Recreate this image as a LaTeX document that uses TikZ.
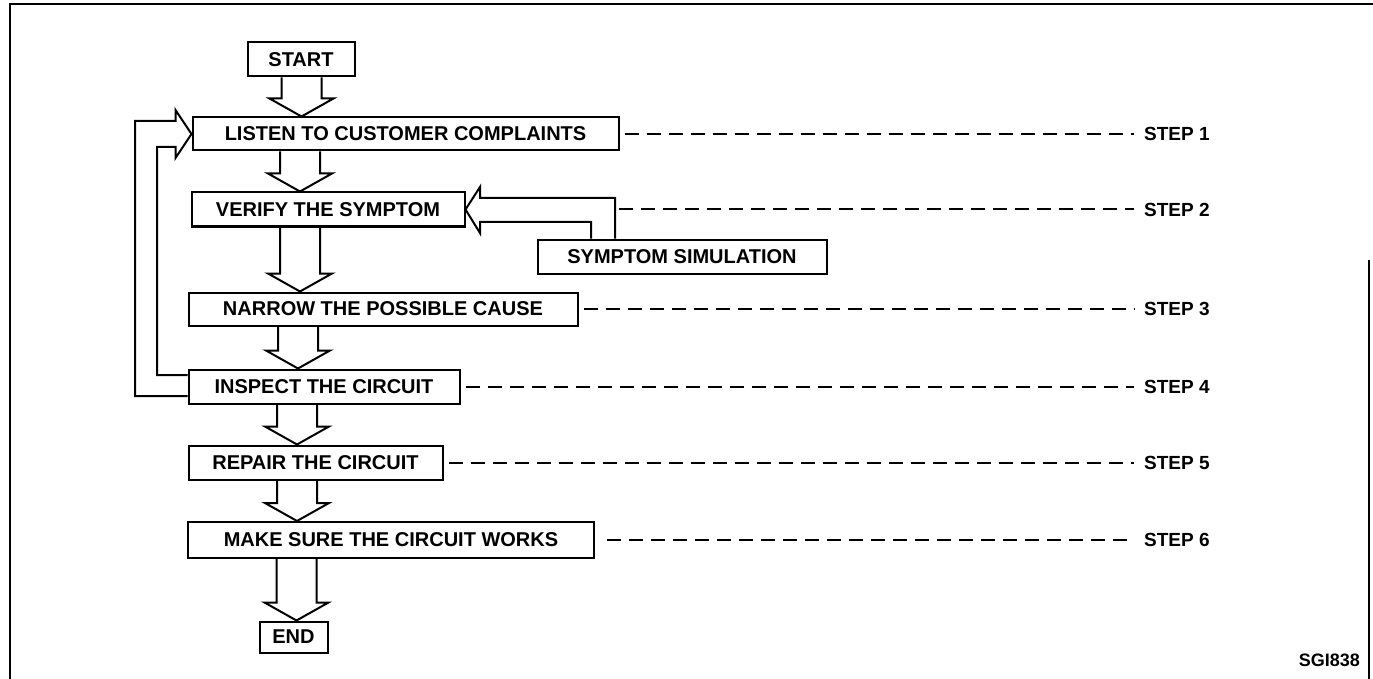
\documentclass[tikz,border=0pt]{standalone}
\usepackage{fontspec}
\setmainfont{Liberation Sans}
\usetikzlibrary{calc}
\tikzset{
  box/.style={draw,line width=2pt,inner sep=0pt,font=\bfseries\fontsize{20}{24}\selectfont},
  steplabel/.style={anchor=west,inner sep=0pt,font=\bfseries\fontsize{19}{23}\selectfont},
  stepline/.style={line width=2pt,dash pattern=on 14pt off 8pt,shorten <=5pt,shorten >=10pt},
  hollow/.style={draw,line width=2pt,line join=miter},
}
% hollow down arrow at x=#1 from node #2 to node #3
\newcommand\bigarrow[3]{%
  \draw[hollow] let \p1=(#2.south), \p2=(#3.north) in
    (#1pt-20pt,\y1) -- (#1pt-20pt,\y2+18pt) -- (#1pt-32pt,\y2+18pt) -- (#1pt,\y2)
    -- (#1pt+32pt,\y2+18pt) -- (#1pt+20pt,\y2+18pt) -- (#1pt+20pt,\y1);}
\begin{document}
\begin{tikzpicture}[x=1pt,y=-1pt]
\useasboundingbox (0,0) rectangle (1373,679);
% frame
\draw[line width=2.5pt] (10,679) -- (10,4) -- (1373,4);
\draw[line width=2pt] (1369,260) -- (1369,679);

% boxes
\node[box,minimum width=107pt,minimum height=34pt] (start) at (301,59.5) {START};
\node[box,minimum width=426pt,minimum height=33pt] (listen) at (405.5,134) {LISTEN TO CUSTOMER COMPLAINTS};
\node[box,minimum width=273pt,minimum height=34pt] (verify) at (328,209.5) {VERIFY THE SYMPTOM};
\node[box,minimum width=289pt,minimum height=34pt] (sim) at (682,256.5) {SYMPTOM SIMULATION};
\node[box,minimum width=389pt,minimum height=33pt] (narrow) at (383,309) {NARROW THE POSSIBLE CAUSE};
\node[box,minimum width=271pt,minimum height=34pt] (inspect) at (324,386.5) {INSPECT THE CIRCUIT};
\node[box,minimum width=254pt,minimum height=34pt] (repair) at (315.5,462.5) {REPAIR THE CIRCUIT};
\node[box,minimum width=406pt,minimum height=36pt] (make) at (391,540) {MAKE SURE THE CIRCUIT WORKS};
\node[box,minimum width=68pt,minimum height=31pt] (end) at (293.5,637) {END};

% main flow
\bigarrow{301.5}{start}{listen}
\bigarrow{300}{listen}{verify}
\bigarrow{300}{verify}{narrow}
\bigarrow{298}{narrow}{inspect}
\bigarrow{297}{inspect}{repair}
\bigarrow{297}{repair}{make}
\bigarrow{296.5}{make}{end}

% loop back from inspect to listen
\draw[hollow] let \p1=(inspect.west), \p2=(listen.west) in
  (\x1,\y1+11.5pt) -- (157pt,\y1+11.5pt) -- (157pt,\y2-13pt) -- (\x2-16pt,\y2-13pt)
  -- (\x2-16pt,\y2-24pt) -- (\p2) -- (\x2-16pt,\y2+24pt) -- (\x2-16pt,\y2+13pt)
  -- (135pt,\y2+13pt) -- (135pt,\y1-9.5pt) -- (\x1,\y1-9.5pt);

% simulation into verify
\draw[hollow] let \p1=(verify.east), \p2=(sim.north) in
  (591pt,\y2) -- (591pt,\y1-12.5pt) -- (480pt,\y1-12.5pt) -- (480pt,\y1-23.5pt) -- (\p1)
  -- (480pt,\y1+22.5pt) -- (480pt,\y1+11.5pt) -- (615pt,\y1+11.5pt) -- (615pt,\y2);
\coordinate (c2) at (614,209.5);

% steps
\node[steplabel] (s1) at (1144,134) {STEP 1};
\node[steplabel] (s2) at (1144,209.5) {STEP 2};
\node[steplabel] (s3) at (1144,309) {STEP 3};
\node[steplabel] (s4) at (1144,386.5) {STEP 4};
\node[steplabel] (s5) at (1144,462.5) {STEP 5};
\node[steplabel] (s6) at (1144,540) {STEP 6};
\draw[stepline] (listen.east) -- (s1.west);
\draw[stepline] (c2) -- (s2.west);
\draw[stepline] (narrow.east) -- (s3.west);
\draw[stepline] (inspect.east) -- (s4.west);
\draw[stepline] (repair.east) -- (s5.west);
\draw[stepline,shorten <=12pt] (make.east) -- (s6.west);

\node[anchor=east,inner sep=0pt,font=\bfseries\fontsize{18}{22}\selectfont] (code) at (1360,660) {SGI838};
\end{tikzpicture}
\end{document}
